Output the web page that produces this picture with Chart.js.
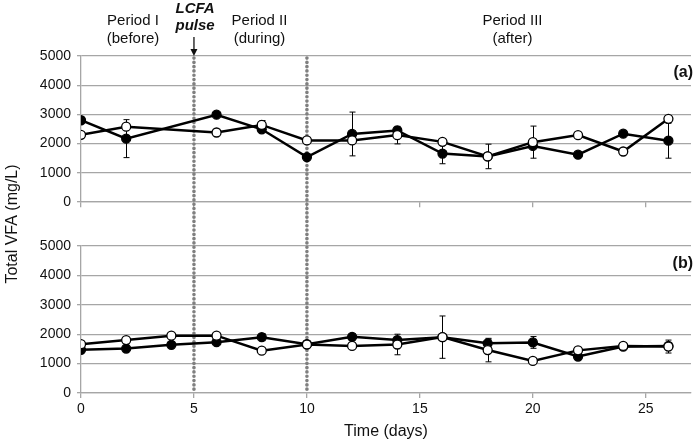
<!DOCTYPE html>
<html>
<head>
<meta charset="utf-8">
<script src="https://cdn.jsdelivr.net/npm/chart.js@4.4.1/dist/chart.umd.min.js"></script>
<style>
  body { margin: 0; background: #fff; }
  #wrap { width: 697px; height: 441px; }
</style>
</head>
<body>
<div id="wrap"><canvas id="myChart"></canvas></div>
<script>
// panel (a)
var daysA = [0, 2, 6, 8, 10, 12, 14, 16, 18, 20, 22, 24, 26];
var aFilled = [2800, 2170, 2990, 2490, 1540, 2330, 2450, 1660, 1560, 1920, 1620, 2340, 2100];
var aOpen = [2300, 2580, 2380, 2640, 2110, 2110, 2290, 2060, 1560, 2050, 2290, 1730, 2850];
var aFilledErr = [0, 650, 0, 0, 0, 750, 100, 350, 420, 0, 0, 0, 600];
var aOpenErr = [0, 0, 0, 150, 0, 0, 300, 0, 0, 550, 0, 0, 0];
// panel (b)
var daysB = [0, 2, 4, 6, 8, 10, 12, 14, 16, 18, 20, 22, 24, 26];
var bFilled = [1470, 1510, 1640, 1730, 1900, 1660, 1910, 1800, 1900, 1690, 1720, 1240, 1580, 1600];
var bOpen = [1660, 1800, 1950, 1950, 1440, 1650, 1600, 1650, 1900, 1460, 1090, 1450, 1600, 1580];
var bFilledErr = [0, 0, 0, 0, 120, 0, 100, 0, 0, 140, 200, 0, 0, 0];
var bOpenErr = [0, 0, 0, 0, 0, 0, 0, 350, 720, 400, 0, 0, 80, 220];

var yTicks = [0, 1000, 2000, 3000, 4000, 5000];
var xTicks = [0, 5, 10, 15, 20, 25];
var pulseDays = [5, 10];

var FONT = "'Liberation Sans', Arial, sans-serif";
var GRID = '#a6a6a6';

function pts(xs, ys) { return xs.map((x, i) => ({x: x, y: ys[i]})); }

function series(label, xs, ys, errs, axis, open) {
  return {
    label: label,
    data: pts(xs, ys),
    errs: errs,
    yAxisID: axis,
    showLine: true,
    borderColor: '#000',
    borderWidth: 2.5,
    pointRadius: 4.5,
    pointHoverRadius: 4.5,
    pointBackgroundColor: open ? '#fff' : '#000',
    pointBorderColor: '#000',
    pointBorderWidth: 1.3
  };
}

function yScale(weight) {
  return {
    type: 'linear', position: 'left', stack: 'v', stackWeight: weight,
    min: 0, max: 5000,
    afterBuildTicks: s => { s.ticks = yTicks.map(v => ({value: v})); },
    afterFit: s => { s.width = 81; },
    grid: { color: GRID, lineWidth: 1.3, tickLength: 4 },
    border: { color: GRID, width: 1.3 },
    ticks: { color: '#111', padding: 6, autoSkip: false, callback: v => String(v), font: { family: FONT, size: 14 } }
  };
}

var decor = {
  id: 'decor',
  beforeDatasetsDraw(chart) {
    var c = chart.ctx, x = chart.scales.x, area = chart.chartArea;
    // dotted markers for the LCFA pulse period
    c.save();
    c.strokeStyle = '#808080';
    c.lineWidth = 3.6;
    c.lineCap = 'round';
    c.setLineDash([0.1, 4.2]);
    pulseDays.forEach(d => {
      var px = x.getPixelForValue(d);
      c.beginPath(); c.moveTo(px, area.top + 2); c.lineTo(px, area.bottom); c.stroke();
    });
    c.restore();

    // error bars
    c.save();
    c.strokeStyle = '#000';
    c.lineWidth = 1;
    chart.data.datasets.forEach(ds => {
      var ys = chart.scales[ds.yAxisID];
      ds.data.forEach((p, j) => {
        var e = ds.errs[j];
        if (!e) return;
        var px = Math.round(x.getPixelForValue(p.x)) + 0.5;
        var t = ys.getPixelForValue(p.y + e), b = ys.getPixelForValue(p.y - e);
        c.beginPath();
        c.moveTo(px, t); c.lineTo(px, b);
        c.moveTo(px - 3, t); c.lineTo(px + 3, t);
        c.moveTo(px - 3, b); c.lineTo(px + 3, b);
        c.stroke();
      });
    });
    c.restore();
  },
  afterDraw(chart) {
    var c = chart.ctx, x = chart.scales.x, area = chart.chartArea;
    c.save();
    c.fillStyle = '#111';
    c.textAlign = 'center';
    c.textBaseline = 'middle';
    c.font = '15px ' + FONT;
    var p1 = x.getPixelForValue(2.3), p2 = x.getPixelForValue(7.9), p3 = x.getPixelForValue(19.1);
    c.fillText('Period I', p1, 21); c.fillText('(before)', p1, 39);
    c.fillText('Period II', p2, 21); c.fillText('(during)', p2, 39);
    c.fillText('Period III', p3, 21); c.fillText('(after)', p3, 39);
    var pl = x.getPixelForValue(5.05);
    c.font = 'italic bold 15px ' + FONT;
    c.fillText('LCFA', pl, 9); c.fillText('pulse', pl, 26);
    // arrow
    var ax = x.getPixelForValue(5);
    c.strokeStyle = '#000'; c.lineWidth = 1.2;
    c.beginPath(); c.moveTo(ax, 37); c.lineTo(ax, area.top - 5); c.stroke();
    c.beginPath(); c.moveTo(ax - 3.5, area.top - 7); c.lineTo(ax + 3.5, area.top - 7); c.lineTo(ax, area.top); c.closePath(); c.fill();
    // panel letters
    c.textAlign = 'right';
    c.font = 'bold 16px ' + FONT;
    c.fillText('(a)', area.right + 2, chart.scales.yA.top + 17);
    c.fillText('(b)', area.right + 2, chart.scales.yB.top + 18);
    c.restore();
  }
};

var ctx = document.getElementById('myChart').getContext('2d');
new Chart(ctx, {
  type: 'scatter',
  data: {
    datasets: [
      series('a open', daysA, aOpen, aOpenErr, 'yA', true),
      series('a filled', daysA, aFilled, aFilledErr, 'yA', false),
      series('b open', daysB, bOpen, bOpenErr, 'yB', true),
      series('b filled', daysB, bFilled, bFilledErr, 'yB', false)
    ]
  },
  options: {
    responsive: true,
    maintainAspectRatio: false,
    animation: false,
    layout: { padding: { left: 0, right: 6, top: 56, bottom: 0 } },
    plugins: { legend: { display: false }, tooltip: { enabled: false } },
    scales: {
      x: {
        type: 'linear', position: 'bottom', min: 0, max: 27,
        afterBuildTicks: s => { s.ticks = xTicks.map(v => ({value: v})); },
        afterFit: s => { s.height = 48; },
        grid: { drawOnChartArea: false, color: GRID, lineWidth: 1.3, tickLength: 5 },
        border: { color: GRID, width: 1.3 },
        ticks: { color: '#111', padding: 3, autoSkip: false, font: { family: FONT, size: 14 } },
        title: { display: true, text: 'Time (days)', color: '#111', padding: { top: 0, bottom: 0 }, font: { family: FONT, size: 16 } }
      },
      x2: {
        type: 'linear', axis: 'x', position: { yA: 0 }, min: 0, max: 27,
        afterBuildTicks: s => { s.ticks = xTicks.map(v => ({value: v})); },
        grid: { drawOnChartArea: false, color: GRID, lineWidth: 1.3, tickLength: 5 },
        border: { color: GRID, width: 1.3 },
        ticks: { display: false }
      },
      yB: yScale(147),
      yGap: {
        type: 'linear', position: 'left', stack: 'v', stackWeight: 44, min: 0, max: 1,
        afterFit: s => { s.width = 81; },
        grid: { display: false },
        border: { display: false },
        ticks: { display: false },
        title: { display: true, text: 'Total VFA (mg/L)', color: '#111', padding: { top: 3, bottom: 0 }, font: { family: FONT, size: 16 } }
      },
      yA: yScale(146)
    }
  },
  plugins: [decor]
});
</script>
</body>
</html>
